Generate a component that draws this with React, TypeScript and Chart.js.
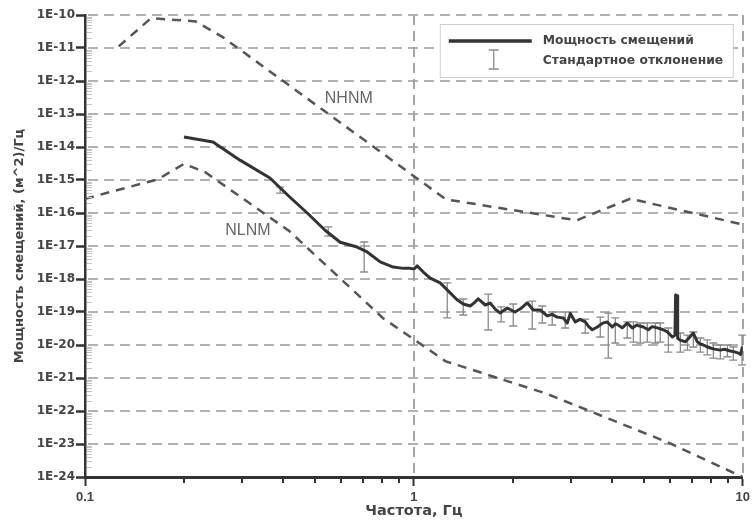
import { useEffect, useRef } from "react";
import { Chart, registerables } from "chart.js";

Chart.register(...registerables);

// ---- Data ----
const mainFreq = [0.2, 0.245, 0.296, 0.365, 0.42, 0.474, 0.537, 0.597, 0.672, 0.721, 0.79, 0.865, 0.93, 0.974, 1.0, 1.023, 1.07, 1.121, 1.202, 1.289, 1.35, 1.413, 1.483, 1.525, 1.569, 1.648, 1.706, 1.77, 1.83, 1.923, 2.03, 2.12, 2.212, 2.307, 2.423, 2.544, 2.63, 2.729, 2.846, 2.925, 2.99, 3.095, 3.2, 3.32, 3.4, 3.487, 3.613, 3.75, 3.873, 4.01, 4.1, 4.183, 4.3, 4.456, 4.614, 4.75, 4.985, 5.162, 5.3, 5.5, 5.73, 5.9, 6.107, 6.22, 6.25, 6.31, 6.34, 6.45, 6.69, 6.85, 7.074, 7.275, 7.4, 7.59, 7.75, 7.97, 8.2, 8.55, 8.8, 9.17, 9.45, 9.7, 9.85, 9.98];
const mainPsd = [2.0e-14, 1.42e-14, 4.0e-15, 1.15e-15, 3.0e-16, 1.0e-16, 3.0e-17, 1.3e-17, 9.3e-18, 6.6e-18, 3.3e-18, 2.3e-18, 2.1e-18, 2.1e-18, 2.0e-18, 2.5e-18, 1.6e-18, 1.07e-18, 7.6e-19, 3.8e-19, 2.4e-19, 1.75e-19, 1.52e-19, 1.9e-19, 2.5e-19, 1.63e-19, 1.87e-19, 1.2e-19, 9.3e-20, 1.32e-19, 1.0e-19, 1.3e-19, 1.9e-19, 1.15e-19, 1.15e-19, 7.6e-20, 8.5e-20, 7.0e-20, 6.6e-20, 4.6e-20, 9.0e-20, 5.0e-20, 6.0e-20, 5.0e-20, 3.6e-20, 2.9e-20, 3.5e-20, 4.6e-20, 5.0e-20, 3.5e-20, 4.4e-20, 4.0e-20, 3.3e-20, 4.6e-20, 3.3e-20, 4.0e-20, 3.5e-20, 2.9e-20, 3.6e-20, 3.3e-20, 2.9e-20, 2.5e-20, 1.75e-20, 2.0e-20, 3.3e-19, 3.1e-19, 1.6e-20, 1.4e-20, 1.25e-20, 1.6e-20, 2.3e-20, 1.25e-20, 1.1e-20, 1.0e-20, 9.0e-21, 8.1e-21, 7.5e-21, 7.0e-21, 7.4e-21, 6.6e-21, 6.2e-21, 5.7e-21, 5.2e-21, 9.0e-21];

const nhnmFreq = [0.1266, 0.1587, 0.217, 0.263, 1.25, 3.125, 4.545, 10];
const nhnmPsd = [1.12e-11, 8.0e-11, 6.4e-11, 2.1e-11, 2.6e-16, 6.0e-17, 2.7e-16, 4.5e-17];

const nlnmFreq = [0.1, 0.1667, 0.2, 0.2326, 0.4167, 0.806, 1.25, 2.5, 5.88, 10];
const nlnmPsd = [2.7e-16, 1.05e-15, 3.1e-15, 1.7e-15, 2.9e-17, 6.5e-20, 3.2e-21, 3.5e-22, 1.15e-23, 1.0e-24];

const errFreq = [0.392, 0.549, 0.706, 1.263, 1.413, 1.683, 1.843, 2.005, 2.29, 2.457, 2.634, 2.885, 3.32, 3.688, 3.9, 4.097, 4.456, 4.65, 4.88, 5.126, 5.42, 5.61, 5.94, 6.46, 6.79, 7.074, 7.43, 7.8, 8.14, 8.55, 8.98, 9.36, 9.95];
const errHigh = [6.1e-16, 3.8e-17, 1.32e-17, 7.6e-19, 2.48e-19, 3.5e-19, 1.42e-19, 1.75e-19, 2.15e-19, 1.52e-19, 1.0e-19, 1.0e-19, 6.1e-20, 7.0e-20, 9.3e-20, 6.6e-20, 5.0e-20, 5.0e-20, 4.64e-20, 4.64e-20, 4.64e-20, 4.64e-20, 3.27e-20, 2.31e-20, 2.0e-20, 2.48e-20, 1.63e-20, 1.42e-20, 1.15e-20, 1.0e-20, 1.0e-20, 8.7e-21, 2.0e-20];
const errLow = [4.0e-16, 2.0e-17, 1.63e-18, 6.6e-20, 8.1e-20, 2.85e-20, 5.0e-20, 3.77e-20, 3.05e-20, 4.64e-20, 4.04e-20, 3.27e-20, 2.31e-20, 1.75e-20, 4.0e-21, 1.15e-20, 1.63e-20, 1.23e-20, 1.15e-20, 1.23e-20, 1.15e-20, 1.23e-20, 6.1e-21, 6.1e-21, 7.0e-21, 8.7e-21, 6.1e-21, 5.0e-21, 4.0e-21, 3.8e-21, 4.4e-21, 3.5e-21, 2.5e-21];

const xTicks = [0.1, 1, 10];
const xTickLabels = ["0.1", "1", "10"];
const yTicks = [1e-24, 1e-23, 1e-22, 1e-21, 1e-20, 1e-19, 1e-18, 1e-17, 1e-16, 1e-15, 1e-14, 1e-13, 1e-12, 1e-11, 1e-10];
const yTickLabels = ["1E-24", "1E-23", "1E-22", "1E-21", "1E-20", "1E-19", "1E-18", "1E-17", "1E-16", "1E-15", "1E-14", "1E-13", "1E-12", "1E-11", "1E-10"];

const curveLabels = ["NHNM", "NLNM"];
const curveLabelFreq = [0.634, 0.313];
const curveLabelPsd = [2.9e-13, 2.9e-17];

const legendLabels = ["Мощность смещений", "Стандартное отклонение"];
const xTitle = "Частота, Гц";
const yTitle = "Мощность смещений, (м^2)/Гц";

const BOLD_DV = '"DejaVu Sans", sans-serif';
const ARIAL = '"Liberation Sans", Arial, sans-serif';

const minorValues = (ticks: number[]) => {
  const out: number[] = [];
  for (let i = 0; i < ticks.length - 1; i++) {
    for (let k = 2; k <= 9; k++) out.push(ticks[i] * k);
  }
  return out;
};

const gridAndErrorPlugin = {
  id: "gridAndError",
  beforeDatasetsDraw(chart: any) {
    const ctx = chart.ctx;
    const xs = chart.scales.x, ys = chart.scales.y;
    const L = xs.getPixelForValue(xTicks[0]);
    const R = xs.getPixelForValue(xTicks[xTicks.length - 1]);
    const B = ys.getPixelForValue(yTicks[0]);
    const T = ys.getPixelForValue(yTicks[yTicks.length - 1]);
    ctx.save();
    // horizontal dashed grid
    ctx.fillStyle = "#b2b2b2";
    for (let i = 1; i < yTicks.length; i++) {
      const py = Math.round(ys.getPixelForValue(yTicks[i]));
      for (let x = L + 3; x < R; x += 16) {
        ctx.fillRect(x, py - 1, Math.min(10, R - x), 2);
      }
    }
    // vertical dashed grid
    ctx.fillStyle = "#a6a6a6";
    for (let i = 1; i < xTicks.length; i++) {
      const px = Math.round(xs.getPixelForValue(xTicks[i]));
      for (let y = T; y < B; y += 16) {
        ctx.fillRect(px - 1, y, 2, Math.min(10, B - y));
      }
    }
    // error bars
    ctx.strokeStyle = "#8a8a8a";
    ctx.lineWidth = 1.3;
    for (let i = 0; i < errFreq.length; i++) {
      const px = xs.getPixelForValue(errFreq[i]);
      const p1 = ys.getPixelForValue(errHigh[i]);
      const p2 = Math.min(ys.getPixelForValue(errLow[i]), B);
      ctx.beginPath();
      ctx.moveTo(px, p1);
      ctx.lineTo(px, p2);
      ctx.moveTo(px - 4, p1);
      ctx.lineTo(px + 4, p1);
      ctx.moveTo(px - 4, p2);
      ctx.lineTo(px + 4, p2);
      ctx.stroke();
    }
    ctx.restore();
  },
};

const extrasPlugin = {
  id: "extras",
  afterDraw(chart: any) {
    const ctx = chart.ctx;
    const xs = chart.scales.x, ys = chart.scales.y;
    const L = xs.getPixelForValue(xTicks[0]);
    const R = xs.getPixelForValue(xTicks[xTicks.length - 1]);
    const B = ys.getPixelForValue(yTicks[0]);
    const T = ys.getPixelForValue(yTicks[yTicks.length - 1]);
    ctx.save();
    // y minor ticks (inside, light)
    ctx.fillStyle = "#c4c4c4";
    for (const v of minorValues(yTicks)) {
      const py = Math.round(ys.getPixelForValue(v));
      ctx.fillRect(L + 2, py, 5, 1);
    }
    // x minor ticks (outside, dark)
    ctx.fillStyle = "#333";
    for (const v of minorValues(xTicks)) {
      const px = Math.round(xs.getPixelForValue(v));
      ctx.fillRect(px - 1, B, 2, 6);
    }
    // curve labels
    ctx.fillStyle = "#666";
    ctx.font = `16px ${ARIAL}`;
    ctx.textAlign = "center";
    ctx.textBaseline = "middle";
    for (let i = 0; i < curveLabels.length; i++) {
      ctx.fillText(curveLabels[i], xs.getPixelForValue(curveLabelFreq[i]), ys.getPixelForValue(curveLabelPsd[i]));
    }
    // legend
    const bw = 293, bh = 53;
    const bx = R - 303, by = T + 9;
    ctx.fillStyle = "#fff";
    ctx.fillRect(bx, by, bw, bh);
    ctx.strokeStyle = "#cfcfcf";
    ctx.lineWidth = 1;
    ctx.strokeRect(bx + 0.5, by + 0.5, bw, bh);
    ctx.strokeStyle = "#333";
    ctx.lineWidth = 3.5;
    ctx.beginPath();
    ctx.moveTo(bx + 9, by + 17);
    ctx.lineTo(bx + 92, by + 17);
    ctx.stroke();
    ctx.strokeStyle = "#8a8a8a";
    ctx.lineWidth = 1.3;
    const ex = bx + 54;
    ctx.beginPath();
    ctx.moveTo(ex, by + 26);
    ctx.lineTo(ex, by + 45);
    ctx.moveTo(ex - 5, by + 26);
    ctx.lineTo(ex + 5, by + 26);
    ctx.moveTo(ex - 5, by + 45);
    ctx.lineTo(ex + 5, by + 45);
    ctx.stroke();
    ctx.fillStyle = "#444";
    ctx.font = `bold 12.3px ${BOLD_DV}`;
    ctx.textAlign = "left";
    ctx.textBaseline = "middle";
    ctx.fillText(legendLabels[0], bx + 103, by + 17);
    ctx.fillText(legendLabels[1], bx + 103, by + 37);
    ctx.restore();
  },
};

export default function App() {
  const ref = useRef<HTMLCanvasElement | null>(null);
  useEffect(() => {
    document.body.style.margin = "0";
    const canvas = ref.current;
    if (!canvas) return;
    const chart = new Chart(canvas, {
      type: "line",
      data: {
        datasets: [
          {
            label: legendLabels[0],
            data: mainFreq.map((x, i) => ({ x, y: mainPsd[i] })),
            borderColor: "#333",
            borderWidth: 3,
            pointRadius: 0,
            tension: 0,
            borderJoinStyle: "round",
          },
          {
            label: curveLabels[0],
            data: nhnmFreq.map((x, i) => ({ x, y: nhnmPsd[i] })),
            borderColor: "#555",
            borderWidth: 2.5,
            borderDash: [9, 7],
            pointRadius: 0,
            tension: 0,
          },
          {
            label: curveLabels[1],
            data: nlnmFreq.map((x, i) => ({ x, y: nlnmPsd[i] })),
            borderColor: "#555",
            borderWidth: 2.5,
            borderDash: [9, 7],
            pointRadius: 0,
            tension: 0,
          },
        ],
      } as any,
      options: {
        animation: false,
        responsive: false,
        parsing: false,
        layout: { padding: { top: 15, right: 11, left: 0, bottom: 0 } },
        plugins: { legend: { display: false }, tooltip: { enabled: false } },
        scales: {
          x: {
            type: "logarithmic",
            min: 0.1,
            max: 10,
            afterBuildTicks: (s: any) => {
              s.ticks = xTicks.map((v) => ({ value: v }));
            },
            afterFit: (s: any) => {
              s.height = 45;
            },
            ticks: {
              callback: (_v: any, i: number) => xTickLabels[i],
              font: { family: ARIAL, size: 13, weight: "bold" },
              color: "#444",
              padding: 4,
              maxRotation: 0,
              autoSkip: false,
            },
            grid: { drawOnChartArea: false, tickColor: "#333", tickLength: 9, tickWidth: 2 },
            border: { color: "#333", width: 3 },
            title: {
              display: true,
              text: xTitle,
              font: { family: BOLD_DV, size: 14.5, weight: "bold" },
              color: "#444",
              padding: { top: 0, bottom: 2 },
            },
          },
          y: {
            type: "logarithmic",
            min: 1e-24,
            max: 1e-10,
            afterBuildTicks: (s: any) => {
              s.ticks = yTicks.map((v) => ({ value: v }));
            },
            afterFit: (s: any) => {
              s.width = 85;
            },
            ticks: {
              callback: (_v: any, i: number) => yTickLabels[i],
              font: { family: BOLD_DV, size: 12, weight: "bold" },
              color: "#444",
              padding: 1,
              autoSkip: false,
            },
            grid: { drawOnChartArea: false, tickColor: "#333", tickLength: 9, tickWidth: 2.5 },
            border: { color: "#333", width: 2.5 },
            title: {
              display: true,
              text: yTitle,
              font: { family: BOLD_DV, size: 13, weight: "bold" },
              color: "#444",
              padding: { top: 12, bottom: 0 },
            },
          },
        },
      } as any,
      plugins: [gridAndErrorPlugin, extrasPlugin],
    });
    return () => chart.destroy();
  }, []);
  return (
    <div style={{ width: 754, height: 522 }}>
      <canvas ref={ref} width={754} height={522} style={{ display: "block" }} />
    </div>
  );
}
